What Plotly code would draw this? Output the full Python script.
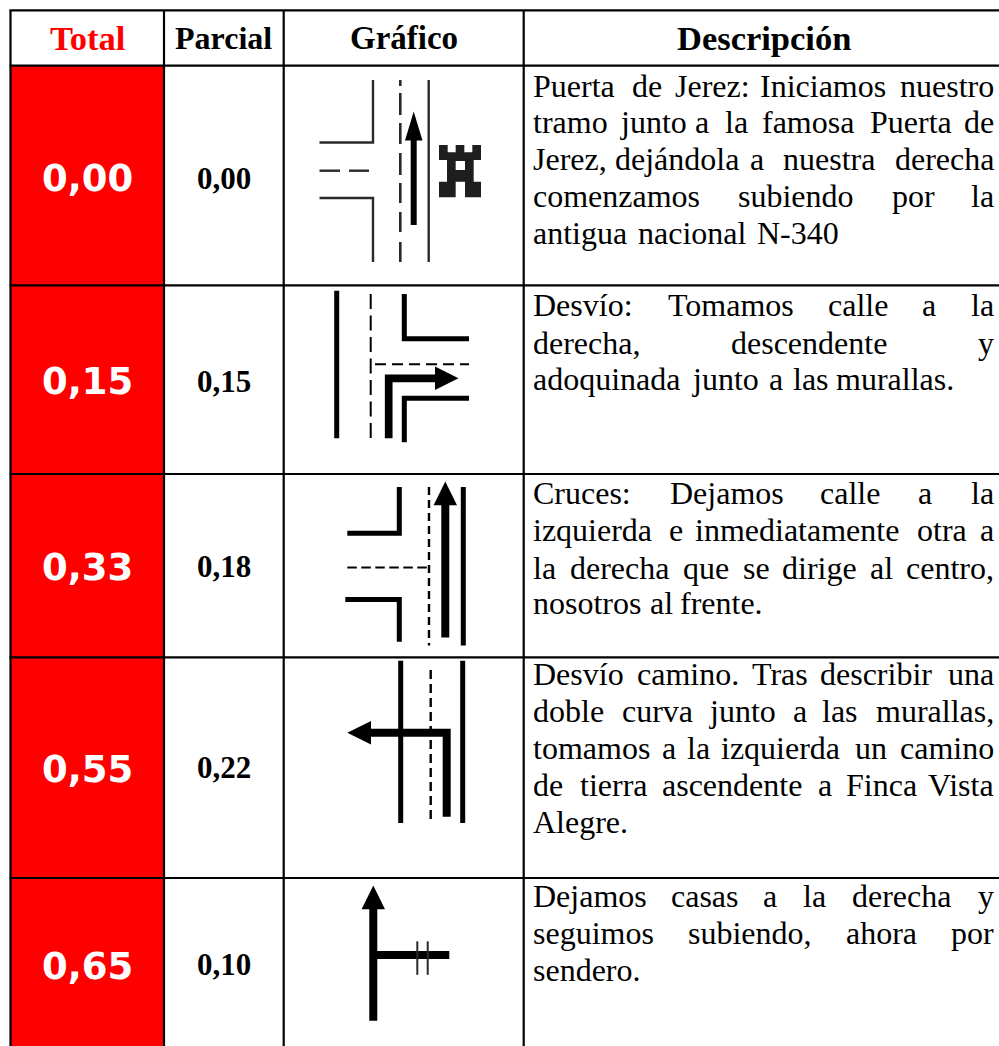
import plotly.graph_objects as go

# ---- table content ----
headers = ["Total", "Parcial", "Gráfico", "Descripción"]
total_km = ["0,00", "0,15", "0,33", "0,55", "0,65"]
parcial_km = ["0,00", "0,15", "0,18", "0,22", "0,10"]

row1_words = [["Puerta", "de", "Jerez:", "Iniciamos", "nuestro"],
              ["tramo", "junto", "a", "la", "famosa", "Puerta", "de"],
              ["Jerez,", "dejándola", "a", "nuestra", "derecha"],
              ["comenzamos", "subiendo", "por", "la"],
              ["antigua", "nacional", "N-340"]]
row1_x = [[533, 632, 675, 760, 907], [533, 620, 695, 725, 762, 870, 960],
          [533, 615, 750, 783, 887], [533, 738, 892, 975], [533, 638, 757]]
row2_words = [["Desvío:", "Tomamos", "calle", "a", "la"],
              ["derecha,", "descendente", "y"],
              ["adoquinada", "junto", "a", "las", "murallas."]]
row2_x = [[533, 668, 828, 922, 972], [533, 731, 979], [533, 692, 769, 793, 836]]
row3_words = [["Cruces:", "Dejamos", "calle", "a", "la"],
              ["izquierda", "e", "inmediatamente", "otra", "a"],
              ["la", "derecha", "que", "se", "dirige", "al", "centro,"],
              ["nosotros", "al", "frente."]]
row3_x = [[533, 670, 820, 918, 972], [533, 669, 695, 917, 972],
          [533, 570, 683, 743, 782, 870, 907], [533, 650, 680]]
row4_words = [["Desvío", "camino.", "Tras", "describir", "una"],
              ["doble", "curva", "junto", "a", "las", "murallas,"],
              ["tomamos", "a", "la", "izquierda", "un", "camino"],
              ["de", "tierra", "ascendente", "a", "Finca", "Vista"],
              ["Alegre."]]
row4_x = [[533, 637, 752, 820, 946], [533, 622, 709, 793, 822, 873],
          [533, 662, 687, 721, 855, 899], [533, 580, 662, 818, 846, 930], [533]]
row5_words = [["Dejamos", "casas", "a", "la", "derecha", "y"],
              ["seguimos", "subiendo,", "ahora", "por"],
              ["sendero."]]
row5_x = [[533, 671, 763, 803, 852, 978], [533, 688, 846, 950], [533]]

row_words = [row1_words, row2_words, row3_words, row4_words, row5_words]
row_x = [row1_x, row2_x, row3_x, row4_x, row5_x]
row_line_y = [[85.5, 121.5, 158.5, 195.5, 232.5], [304.5, 342.5, 378.5], [492.5, 529.5, 567.5, 602.5],
              [673.5, 710.5, 748, 785, 822], [896, 933, 970]]
total_y = [178, 381, 567, 769, 966]
parcial_y = [178, 381, 566, 767.5, 964.5]

# ---- grid ----
col_x = [10.5, 164, 283.7, 523.7]
row_y = [10.3, 65.7, 285.3, 474, 657.4, 878]
W, H = 999, 1046
SERIF = "Liberation Serif"
BODY_SIZE = 32

shapes, ann = [], []


def line(points, width=5, color="black", dash=None):
    d = "M " + " L ".join(f"{x} {y}" for x, y in points)
    ln = dict(color=color, width=width)
    if dash:
        ln["dash"] = dash
    shapes.append(dict(type="path", path=d, line=ln, layer="above"))


def poly(points, color="black"):
    d = "M " + " L ".join(f"{x} {y}" for x, y in points) + " Z"
    shapes.append(dict(type="path", path=d, fillcolor=color, line=dict(width=0), layer="above"))


def text(x, y, s, size, color="black", bold=False, fam=SERIF, anchor="left"):
    ann.append(dict(x=x, y=y, text=s, showarrow=False, xanchor=anchor, yanchor="middle",
                    borderpad=0, borderwidth=0,
                    font=dict(family=fam, size=size, color=color, weight=700 if bold else 400)))


# red column
shapes.append(dict(type="rect", x0=col_x[0], x1=col_x[1], y0=row_y[1], y1=H,
                   fillcolor="#ff0000", line=dict(width=0), layer="below"))
# grid lines
for x in col_x:
    line([(x, row_y[0]), (x, H)], width=2.2)
for y in row_y:
    line([(col_x[0] - 1, y), (W, y)], width=2.2)

# ---- diagrams ----
TH = "#2a2a2a"
# row 1
line([(319.5, 142.5), (373, 142.5), (373, 80)], 2.4, TH)
line([(319.5, 198), (373, 198), (373, 262)], 2.4, TH)
line([(319.5, 170.7), (340, 170.7)], 2.4, TH)
line([(349, 170.7), (369, 170.7)], 2.4, TH)
line([(400.3, 80), (400.3, 262)], 2.6, TH, "6px,7px,22px,8px,21px,9px,22px,8px,20px,9px,20px,10px,20px")
line([(428.7, 80), (428.7, 262)], 2.4, TH)
line([(413.7, 225), (413.7, 139)], 6)
poly([(405, 140.5), (422.5, 140.5), (413.7, 111.5)])
castle = [(462, 255), (488, 255), (488, 277), (512, 277), (512, 255), (538, 255), (538, 277),
          (562, 277), (562, 255), (588, 255), (588, 300), (566, 300), (566, 365), (588, 365),
          (588, 412), (540, 412), (540, 365), (512, 365), (512, 412), (462, 412), (462, 365),
          (486, 365), (486, 300), (462, 300)]
poly([(285 + a / 3, 60 + b / 3) for a, b in castle], "#1e1e1e")
poly([(285 + a / 3, 60 + b / 3) for a, b in [(512, 303), (540, 303), (540, 330), (512, 330)]], "white")
# row 2
line([(336.7, 290.7), (336.7, 438.3)], 5)
line([(370.7, 294), (370.7, 441)], 2, "black", "15px,6.5px")
line([(404.3, 294), (404.3, 338.7), (469, 338.7)], 5)
line([(375, 364.3), (469, 364.3)], 2, "black", "11px,6px")
line([(388.7, 438.3), (388.7, 378.3), (436, 378.3)], 7.7)
poly([(435, 366.5), (435, 390), (458.5, 378.3)])
line([(404.3, 442.3), (404.3, 398.3), (469, 398.3)], 5)
# row 3
line([(347.3, 533.3), (399.3, 533.3), (399.3, 487)], 5)
line([(347.3, 567.5), (427, 567.5)], 2, "black", "9.5px,4.5px")
line([(345.3, 599.6), (399.3, 599.6), (399.3, 641.8)], 5)
line([(429, 487), (429, 645.5)], 2.4, "black", "8px,5px")
line([(445.3, 637.5), (445.3, 504)], 8)
poly([(433.6, 505.2), (457, 505.2), (445.3, 481.6)])
line([(463.3, 487), (463.3, 645.5)], 5)
# row 4
line([(400.7, 660.8), (400.7, 823)], 5)
line([(462.7, 660.8), (462.7, 823)], 5)
line([(430.7, 670), (430.7, 819.3)], 2.4, "black", "9px,5px")
line([(446.7, 816.7), (446.7, 732.8), (370, 732.8)], 8)
poly([(371, 721), (371, 744.6), (347.3, 732.8)])
# row 5
line([(373.3, 1020.7), (373.3, 908)], 8)
poly([(361.6, 909.2), (385, 909.2), (373.3, 885.6)])
line([(373.3, 955.1), (449.3, 955.1)], 8)
line([(417.3, 941.3), (417.3, 974.8)], 2, TH)
line([(427.7, 941.3), (427.7, 974.8)], 2, TH)

# ---- text ----
hdr_x = [87, 223.5, 404, 764]
hdr_size = [34.5, 32, 33, 34.5]
for i, h in enumerate(headers):
    text(hdr_x[i], 38, h, hdr_size[i], "#ff0000" if i == 0 else "black", True, anchor="center")
for t, p, ty, py in zip(total_km, parcial_km, total_y, parcial_y):
    text(87, ty, t, 37, "white", True, "DejaVu Sans", "center")
    text(223.5, py, p, 31, "black", True, anchor="center")
for words, xs, ys in zip(row_words, row_x, row_line_y):
    for i, (lw, lx, ly) in enumerate(zip(words, xs, ys)):
        justified = i < len(words) - 1
        for j, (w, x) in enumerate(zip(lw, lx)):
            if justified and j == len(lw) - 1:
                text(994, ly, w, BODY_SIZE, anchor="right")
            else:
                text(x, ly, w, BODY_SIZE)

fig = go.Figure()
fig.update_layout(width=W, height=H, margin=dict(l=0, r=0, t=0, b=0),
                  paper_bgcolor="white", plot_bgcolor="white", showlegend=False,
                  xaxis=dict(range=[0, W], visible=False, fixedrange=True),
                  yaxis=dict(range=[H, 0], visible=False, fixedrange=True),
                  shapes=shapes, annotations=ann)
fig.write_html("out.html", config={"displayModeBar": False},
               post_script="document.body.style.margin='0';document.documentElement.style.overflow='hidden';")
